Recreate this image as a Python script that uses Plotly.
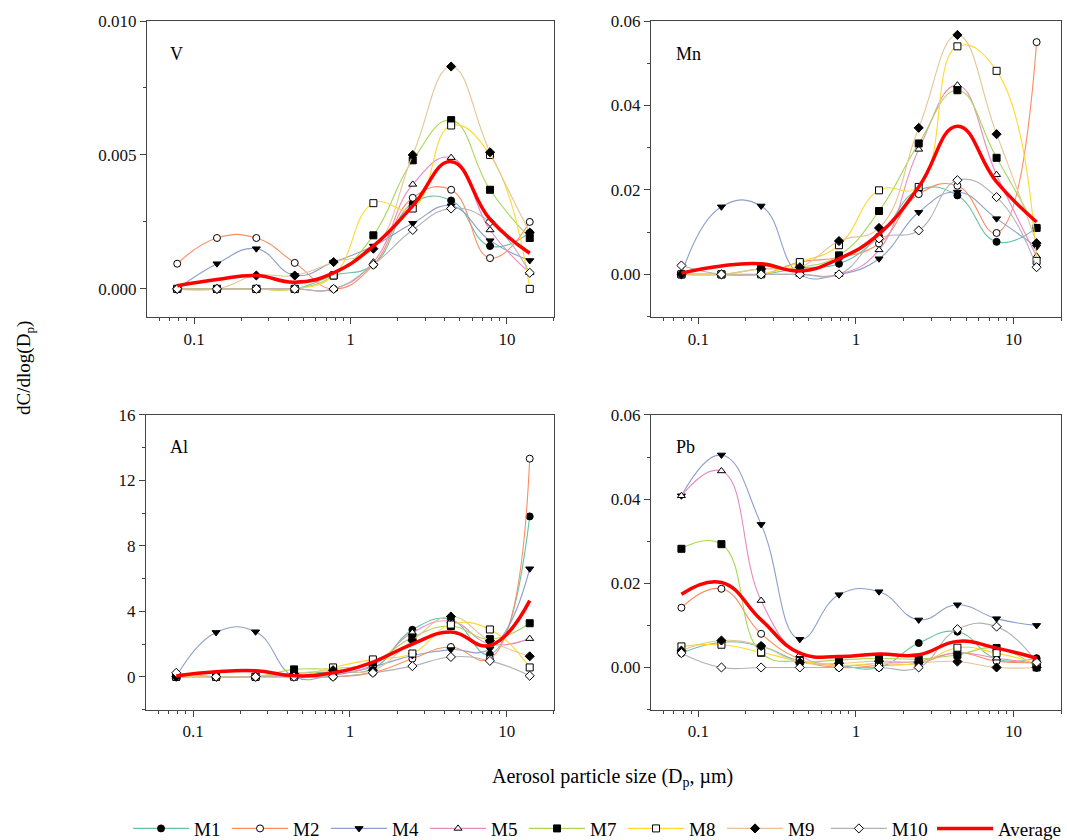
import plotly.graph_objects as go

# particle size midpoints (µm)
sizes = [0.078, 0.14, 0.25, 0.44, 0.78, 1.4, 2.5, 4.4, 7.8, 14]
series_names = ["M1", "M2", "M4", "M5", "M7", "M8", "M9", "M10"]

V_M1 = [0, 0, 0, 0, 0.0005, 0.0009, 0.0032, 0.0033, 0.0016, 0.0021]
V_M2 = [0.00094, 0.0019, 0.0019, 0.00097, 0, 0.0009, 0.0034, 0.0037, 0.00115, 0.0025]
V_M4 = [0, 0.00094, 0.0015, 0.0005, 0.0010, 0.0016, 0.00245, 0.0031, 0.0018, 0.00106]
V_M5 = [0, 0, 0, 0, 0, 0.0010, 0.0039, 0.0049, 0.0022, 0.0006]
V_M7 = [0, 0, 0, 0, 0.0005, 0.0020, 0.0048, 0.0063, 0.0037, 0.0019]
V_M8 = [0, 0, 0, 0, 0.0005, 0.0032, 0.0030, 0.0061, 0.0050, 0]
V_M9 = [0, 0, 0.0005, 0.0005, 0.0010, 0.0015, 0.0050, 0.0083, 0.0051, 0.0021]
V_M10 = [0, 0, 0, 0, 0, 0.0009, 0.0022, 0.0030, 0.0025, 0.0006]
V_avg = [0.00012, 0.00035, 0.0005, 0.00025, 0.0006, 0.0016, 0.0031, 0.00475, 0.0026, 0.00133]

Mn_M1 = [0, 0, 0, 0.0015, 0.0025, 0.0090, 0.0200, 0.0187, 0.0077, 0.0110]
Mn_M2 = [0, 0, 0, 0.0029, 0.0040, 0.0073, 0.0190, 0.0210, 0.0098, 0.0550]
Mn_M4 = [0, 0.0160, 0.0162, 0, 0, 0.0037, 0.0147, 0.0195, 0.0132, 0.0065]
Mn_M5 = [0, 0, 0, 0, 0, 0.0058, 0.0296, 0.0448, 0.0236, 0.0043]
Mn_M7 = [0, 0, 0.0013, 0.0017, 0.0045, 0.0150, 0.0310, 0.0436, 0.0276, 0.0110]
Mn_M8 = [0, 0, 0, 0.0029, 0.0069, 0.0199, 0.0207, 0.0540, 0.0482, 0.0032]
Mn_M9 = [0, 0, 0.0013, 0.0017, 0.0079, 0.0110, 0.0347, 0.0567, 0.0332, 0.0074]
Mn_M10 = [0.0021, 0, 0, 0, 0, 0.0085, 0.0104, 0.0223, 0.0183, 0.0017]
Mn_avg = [0.0003, 0.0020, 0.0025, 0.0008, 0.0037, 0.0096, 0.0207, 0.0351, 0.0219, 0.0124]

Al_M1 = [0, 0, 0, 0.2, 0.3, 0.5, 2.87, 3.5, 1.36, 9.8]
Al_M2 = [0, 0, 0, 0, 0.0, 0.25, 1.1, 1.82, 1.1, 13.33]
Al_M4 = [0, 2.71, 2.75, 0, 0.1, 0.6, 1.3, 1.66, 1.7, 6.6]
Al_M5 = [0, 0, 0, 0, 0.2, 0.7, 2.7, 3.4, 2.0, 2.33]
Al_M7 = [0, 0, 0, 0.45, 0.5, 0.9, 2.4, 3.1, 2.3, 3.27]
Al_M8 = [0, 0, 0, 0, 0.57, 1.06, 1.42, 3.19, 2.89, 0.57]
Al_M9 = [0, 0, 0, 0.2, 0.4, 0.4, 2.22, 3.68, 2.2, 1.25]
Al_M10 = [0.24, 0, 0, 0, 0, 0.24, 0.65, 1.21, 0.97, 0.06]
Al_avg = [0.05, 0.3, 0.37, 0.06, 0.24, 0.9, 2.0, 2.73, 1.92, 4.65]

Pb_M1 = [0.0034, 0.0060, 0.0050, 0.0015, 0.0005, 0.0, 0.0058, 0.0085, 0.0020, 0.0022]
Pb_M2 = [0.0142, 0.0187, 0.0080, 0.0020, 0.0, 0.0005, 0.0010, 0.0035, 0.0015, 0.0012]
Pb_M4 = [0.0408, 0.0505, 0.0340, 0.0067, 0.0173, 0.0180, 0.0113, 0.0149, 0.0116, 0.0100]
Pb_M5 = [0.0408, 0.0467, 0.0159, 0.0030, 0.0005, 0.0010, 0.0015, 0.0035, 0.0022, 0.0010]
Pb_M7 = [0.0282, 0.0293, 0.0035, 0.0014, 0.0018, 0.0022, 0.0020, 0.0030, 0.0046, 0.0]
Pb_M8 = [0.0050, 0.0054, 0.0036, 0.0015, 0.0005, 0.0010, 0.0010, 0.0047, 0.0034, 0.0010]
Pb_M9 = [0.0040, 0.0064, 0.0051, 0.0012, 0.0010, 0.0015, 0.0012, 0.0014, 0.0, 0.0]
Pb_M10 = [0.0034, 0.0, 0.0, 0.0, 0.0, 0.0, 0.0, 0.0091, 0.0097, 0.0012]
Pb_avg = [0.0174, 0.0202, 0.0113, 0.0034, 0.0026, 0.0032, 0.0030, 0.0062, 0.0046, 0.0022]

panels = [
    ("V", [V_M1, V_M2, V_M4, V_M5, V_M7, V_M8, V_M9, V_M10], V_avg),
    ("Mn", [Mn_M1, Mn_M2, Mn_M4, Mn_M5, Mn_M7, Mn_M8, Mn_M9, Mn_M10], Mn_avg),
    ("Al", [Al_M1, Al_M2, Al_M4, Al_M5, Al_M7, Al_M8, Al_M9, Al_M10], Al_avg),
    ("Pb", [Pb_M1, Pb_M2, Pb_M4, Pb_M5, Pb_M7, Pb_M8, Pb_M9, Pb_M10], Pb_avg),
]

colors = ["#66c2a5", "#fc8d62", "#8da0cb", "#e78ac3", "#a6d854", "#ffd92f", "#e5c494", "#b3b3b3"]
symbols = ["circle", "circle", "triangle-down", "triangle-up", "square", "square", "diamond", "diamond"]
fills = ["black", "white", "black", "white", "black", "white", "black", "white"]
legend_ids = ["legend"] * 7 + ["legend3"]

FONT = "Liberation Serif"
fig = go.Figure()

xdom = [[0.1378, 0.5192], [0.6101, 0.9944], [0.1368, 0.5192], [0.6101, 0.9944]]
ydom = [[0.6226, 0.975], [0.6226, 0.975], [0.1548, 0.506], [0.1548, 0.506]]
yranges = [[-0.00105, 0.010], [-0.0101, 0.06], [-2.03, 16], [-0.0101, 0.06]]
yticks = [[0, 0.005, 0.010], [0, 0.02, 0.04, 0.06], [0, 4, 8, 12, 16], [0, 0.02, 0.04, 0.06]]
ytext = [["0.000", "0.005", "0.010"], ["0.00", "0.02", "0.04", "0.06"],
         ["0", "4", "8", "12", "16"], ["0.00", "0.02", "0.04", "0.06"]]
yminor = [0.0025, 0.01, 2, 0.01]
labpos = [(0.052, 0.889), (0.057, 0.889), (0.055, 0.892), (0.057, 0.892)]

minor_x = [0.06, 0.07, 0.08, 0.09, 0.2, 0.3, 0.4, 0.5, 0.6, 0.7, 0.8, 0.9,
           2, 3, 4, 5, 6, 7, 8, 9, 20]

for p, (name, data, avg) in enumerate(panels):
    ax = "" if p == 0 else str(p + 1)
    for i, s in enumerate(data):
        fig.add_trace(go.Scatter(
            x=sizes, y=s, mode="lines+markers", name=series_names[i],
            xaxis="x" + ax, yaxis="y" + ax,
            line=dict(color=colors[i], width=1.1, shape="spline", smoothing=1.3),
            marker=dict(symbol=symbols[i], size=7, color=fills[i],
                        line=dict(color="black", width=1)),
            showlegend=(p == 0), legendgroup=series_names[i], legend=legend_ids[i]))
    fig.add_trace(go.Scatter(
        x=sizes, y=avg, mode="lines", name="Average",
        xaxis="x" + ax, yaxis="y" + ax,
        line=dict(color="#ff0000", width=3.5, shape="spline", smoothing=1.3),
        showlegend=(p == 0), legendgroup="Average", legend="legend2"))
    fig.update_layout(**{
        "xaxis" + ax: dict(
            type="log", domain=xdom[p], anchor="y" + ax, automargin=False,
            range=[-1.301, 1.301], tickvals=[0.1, 1, 10], ticktext=["0.1", "1", "10"],
            ticks="outside", ticklen=6, tickcolor="#444", showline=True, linecolor="#444",
            linewidth=1.2, mirror=True, showgrid=False, zeroline=False,
            tickfont=dict(family=FONT, size=17, color="#111"),
            minor=dict(tickvals=minor_x, ticks="outside", ticklen=3, tickcolor="#444")),
        "yaxis" + ax: dict(
            domain=ydom[p], anchor="x" + ax, range=yranges[p], automargin=False,
            tickvals=yticks[p], ticktext=ytext[p],
            ticks="outside", ticklen=6, tickcolor="#444", showline=True, linecolor="#444",
            linewidth=1.2, mirror=True, showgrid=False, zeroline=False,
            tickfont=dict(family=FONT, size=17, color="#111"),
            minor=dict(dtick=yminor[p], ticks="outside", ticklen=3, tickcolor="#444")),
    })
    fig.add_annotation(text=name, x=labpos[p][0], y=labpos[p][1],
                       xref="x" + ax + " domain", yref="y" + ax + " domain",
                       showarrow=False, xanchor="left", yanchor="middle",
                       font=dict(family=FONT, size=18, color="black"))

fig.add_annotation(text="Aerosol particle size (D<sub>p</sub>, µm)", x=0.574, y=0.075,
                   xref="paper", yref="paper", showarrow=False,
                   xanchor="center", yanchor="middle",
                   font=dict(family=FONT, size=20, color="black"))
fig.add_annotation(text="dC/dlog(D<sub>p</sub>)", x=0.0234, y=0.562, textangle=-90,
                   xref="paper", yref="paper", showarrow=False,
                   xanchor="center", yanchor="middle",
                   font=dict(family=FONT, size=19, color="black"))

leg_common = dict(orientation="h", y=-0.009, xanchor="left", yanchor="bottom",
                  font=dict(family=FONT, size=19, color="black"),
                  itemwidth=56, bgcolor="rgba(0,0,0,0)")

fig.update_layout(
    width=1067, height=840, margin=dict(l=0, r=0, t=0, b=0, autoexpand=False),
    paper_bgcolor="white", plot_bgcolor="white",
    font=dict(family=FONT, size=17, color="black"),
    legend=dict(x=0.12, entrywidth=28, entrywidthmode="pixels", tracegroupgap=0, **leg_common),
    legend3=dict(x=0.774, **leg_common),
    legend2=dict(x=0.8735, **leg_common),
)

fig.write_html("out.html", post_script="document.body.style.margin='0px';",
               config={"displayModeBar": False})
